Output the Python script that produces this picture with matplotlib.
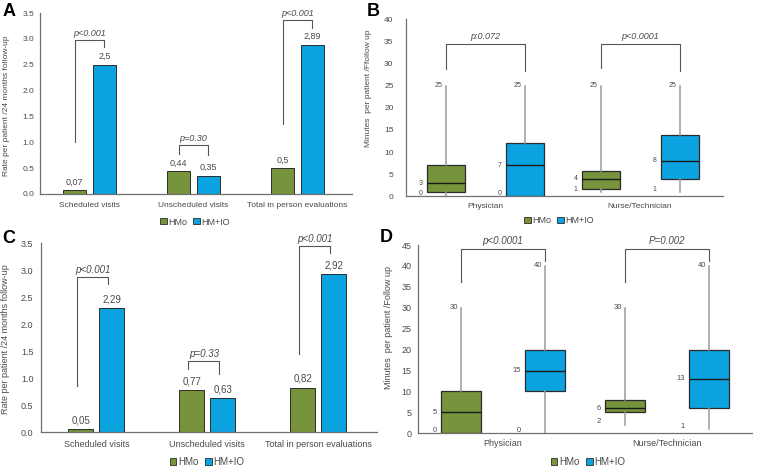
import matplotlib
matplotlib.use('Agg')
import matplotlib.pyplot as plt
from matplotlib.patches import Patch

plt.rcParams['font.family'] = ['Liberation Sans', 'DejaVu Sans']

# Data
visit_types = ['Scheduled visits', 'Unscheduled visits', 'Total in person evaluations']
a_hmo = [0.07, 0.44, 0.5]
a_hmio = [2.5, 0.35, 2.89]
a_pvals = ['p<0.001', 'p=0.30', 'p<0.001']
c_hmo = [0.05, 0.77, 0.82]
c_hmio = [2.29, 0.63, 2.92]
c_pvals = ['p<0.001', 'p=0.33', 'p<0.001']

staff = ['Physician', 'Nurse/Technician']
# (min, q1, median, q3, max) minutes per patient
b_hmo = [(0, 1, 3, 7, 25), (1, 1.8, 4, 5.8, 25)]
b_hmio = [(0, 0, 7, 12, 25), (1, 3.9, 8, 13.8, 25)]
b_pvals = ['p:0.072', 'p<0.0001']
d_hmo = [(0, 0, 5, 10, 30), (2, 5, 6, 8, 30)]
d_hmio = [(0, 10, 15, 20, 40), (1, 6, 13, 20, 40)]
d_pvals = ['p<0.0001', 'P=0.002']

series_names = ['HMo', 'HM+IO']

# bracket layout (left foot, right foot, top) in data units
a_brackets = [(1.0, 2.84, 2.98), (0.77, 0.75, 0.95), (1.35, 3.21, 3.37)]
c_brackets = [(0.85, 2.74, 2.87), (1.17, 1.07, 1.31), (1.44, 3.31, 3.44)]
b_brackets = [(28.7, 28.2, 34.4), (28.9, 28.2, 34.4)]
d_brackets = [(36.2, 41.2, 44.1), (36.2, 41.2, 44.1)]

GREEN = '#77933c'
BLUE = '#0ba3df'
EDGE = '#2b2b2b'
TXT = '#4a4a4a'
SPINE = '#707070'
BRK = '#555555'

W, H = 760, 473
fig = plt.figure(figsize=(W / 100, H / 100), dpi=100)


def px_axes(l, r, t, b):
    return fig.add_axes([l / W, 1 - b / H, (r - l) / W, (b - t) / H])


def style(ax, ymax, step, fmt, ypad, xpad, fs):
    for s in ['top', 'right']:
        ax.spines[s].set_visible(False)
    for s in ['left', 'bottom']:
        ax.spines[s].set_color(SPINE)
        ax.spines[s].set_linewidth(0.9)
    ax.set_ylim(0, ymax)
    ticks = [i * step for i in range(int(round(ymax / step)) + 1)]
    ax.set_yticks(ticks)
    ax.set_yticklabels([fmt.format(t) for t in ticks])
    ax.tick_params(axis='y', length=0, pad=ypad, labelsize=fs, labelcolor=TXT)
    ax.tick_params(axis='x', length=0, pad=xpad, labelsize=fs, labelcolor=TXT)


def bar_panel(ax, hmo, hmio, pvals, brackets, width, off, shift, fs):
    x = list(range(len(visit_types)))
    ax.bar([i - off for i in x], hmo, width, color=GREEN, edgecolor=EDGE, linewidth=0.7)
    ax.bar([i + off for i in x], hmio, width, color=BLUE, edgecolor=EDGE, linewidth=0.7)
    for i in x:
        ax.text(i - off, hmo[i] + 0.07, f'{hmo[i]:g}'.replace('.', ','), ha='center',
                va='bottom', fontsize=fs + 0.5, color=TXT)
        ax.text(i + off, hmio[i] + 0.07, f'{hmio[i]:g}'.replace('.', ','), ha='center',
                va='bottom', fontsize=fs + 0.5, color=TXT)
        lb, rb, top = brackets[i]
        xl, xr = i - off + shift, i + off + shift
        ax.plot([xl, xl, xr, xr], [lb, top, top, rb], color=BRK, lw=0.8, clip_on=False)
        ax.text((xl + xr) / 2, top + 0.04, pvals[i], ha='center', va='bottom',
                fontsize=fs + 0.5, style='italic', color=TXT, clip_on=False)
    ax.set_xticks(x)
    ax.set_xticklabels(visit_types)


def box_panel(ax, hmo, hmio, pvals, brackets, width, off, fs):
    for k, (data, col) in enumerate([(hmo, GREEN), (hmio, BLUE)]):
        pos = [i + (off if k else -off) for i in range(len(staff))]
        stats = [dict(whislo=d[0], q1=d[1], med=d[2], q3=d[3], whishi=d[4]) for d in data]
        ax.bxp(stats, positions=pos, widths=width, patch_artist=True, showcaps=False,
               showfliers=False, manage_ticks=False,
               boxprops=dict(facecolor=col, edgecolor=EDGE, linewidth=0.9),
               whiskerprops=dict(color='#9a9a9a', linewidth=1.1),
               medianprops=dict(color='#1a1a1a', linewidth=1.0))
        for p, d in zip(pos, data):
            ax.annotate(f'{d[4]:g}', (p, d[4]), xytext=(-3, 0), textcoords='offset pixels',
                        ha='right', va='center', fontsize=fs - 1, color=TXT)
            left = p - width / 2
            ax.annotate(f'{d[2]:g}', (left, d[2]), xytext=(-4, 0), textcoords='offset pixels',
                        ha='right', va='center', fontsize=fs - 1, color=TXT)
            ax.annotate(f'{d[0]:g}', (left, d[0]), xytext=(-4, 3), textcoords='offset pixels',
                        ha='right', va='center', fontsize=fs - 1, color=TXT)
    for i in range(len(staff)):
        lb, rb, top = brackets[i]
        xl, xr = i - off, i + off
        ax.plot([xl, xl, xr, xr], [lb, top, top, rb], color=BRK, lw=0.8, clip_on=False)
        ax.text((xl + xr) / 2, top + 0.6, pvals[i], ha='center', va='bottom',
                fontsize=fs + 0.5, style='italic', color=TXT, clip_on=False)
    ax.set_xticks(range(len(staff)))
    ax.set_xticklabels(staff)


def legend(x, y, fs):
    handles = [Patch(facecolor=GREEN, edgecolor=EDGE, linewidth=0.6),
               Patch(facecolor=BLUE, edgecolor=EDGE, linewidth=0.6)]
    fig.legend(handles, series_names, loc='center', bbox_to_anchor=(x / W, 1 - y / H),
               ncol=2, frameon=False, fontsize=fs, handlelength=0.7, handleheight=0.7,
               handletextpad=0.15, columnspacing=0.7, labelcolor=TXT)


# Panel A
axA = px_axes(40, 352, 13, 194)
bar_panel(axA, a_hmo, a_hmio, a_pvals, a_brackets, 0.226, 0.144, 0.0, 6)
axA.set_xlim(-0.476, 2.524)
style(axA, 3.5, 0.5, '{:.1f}', 4, 6, 6)
axA.set_ylabel('Rate per patient /24 months follow-up', fontsize=6, color=TXT)
axA.yaxis.set_label_coords(-0.096, 0.49)
legend(195, 222, 6.5)

# Panel B
axB = px_axes(406, 723, 19, 196.5)
box_panel(axB, b_hmo, b_hmio, b_pvals, b_brackets, 0.245, 0.255, 6)
axB.set_xlim(-0.51, 1.535)
style(axB, 40, 5, '{:g}', 9, 4.5, 6)
axB.set_ylabel('Minutes  per patient /Ffollow up', fontsize=6, color=TXT)
axB.yaxis.set_label_coords(-0.107, 0.61)
legend(559, 221, 6.5)

# Panel C
axC = px_axes(41, 377, 243, 432)
bar_panel(axC, c_hmo, c_hmio, c_pvals, c_brackets, 0.225, 0.14, -0.032, 6.5)
axC.set_xlim(-0.5, 2.53)
style(axC, 3.5, 0.5, '{:.1f}', 5.5, 6, 6.5)
axC.set_ylabel('Rate per patient /24 months follow-up', fontsize=6.5, color=TXT)
axC.yaxis.set_label_coords(-0.092, 0.49)
legend(207, 462, 7)

# Panel D
axD = px_axes(418, 752, 245, 433.3)
box_panel(axD, d_hmo, d_hmio, d_pvals, d_brackets, 0.244, 0.256, 6.5)
axD.set_xlim(-0.518, 1.518)
style(axD, 45, 5, '{:g}', 4.5, 4, 6.5)
axD.set_ylabel('Minutes  per patient /Follow up', fontsize=6.5, color=TXT)
axD.yaxis.set_label_coords(-0.075, 0.56)
legend(588, 462, 7)

for letter, x, y in [('A', 9, 11), ('B', 373, 11), ('C', 9, 238), ('D', 386, 237)]:
    fig.text(x / W, 1 - y / H, letter, fontsize=13, fontweight='bold', ha='center', va='center')

fig.savefig('out.png', dpi=100)
